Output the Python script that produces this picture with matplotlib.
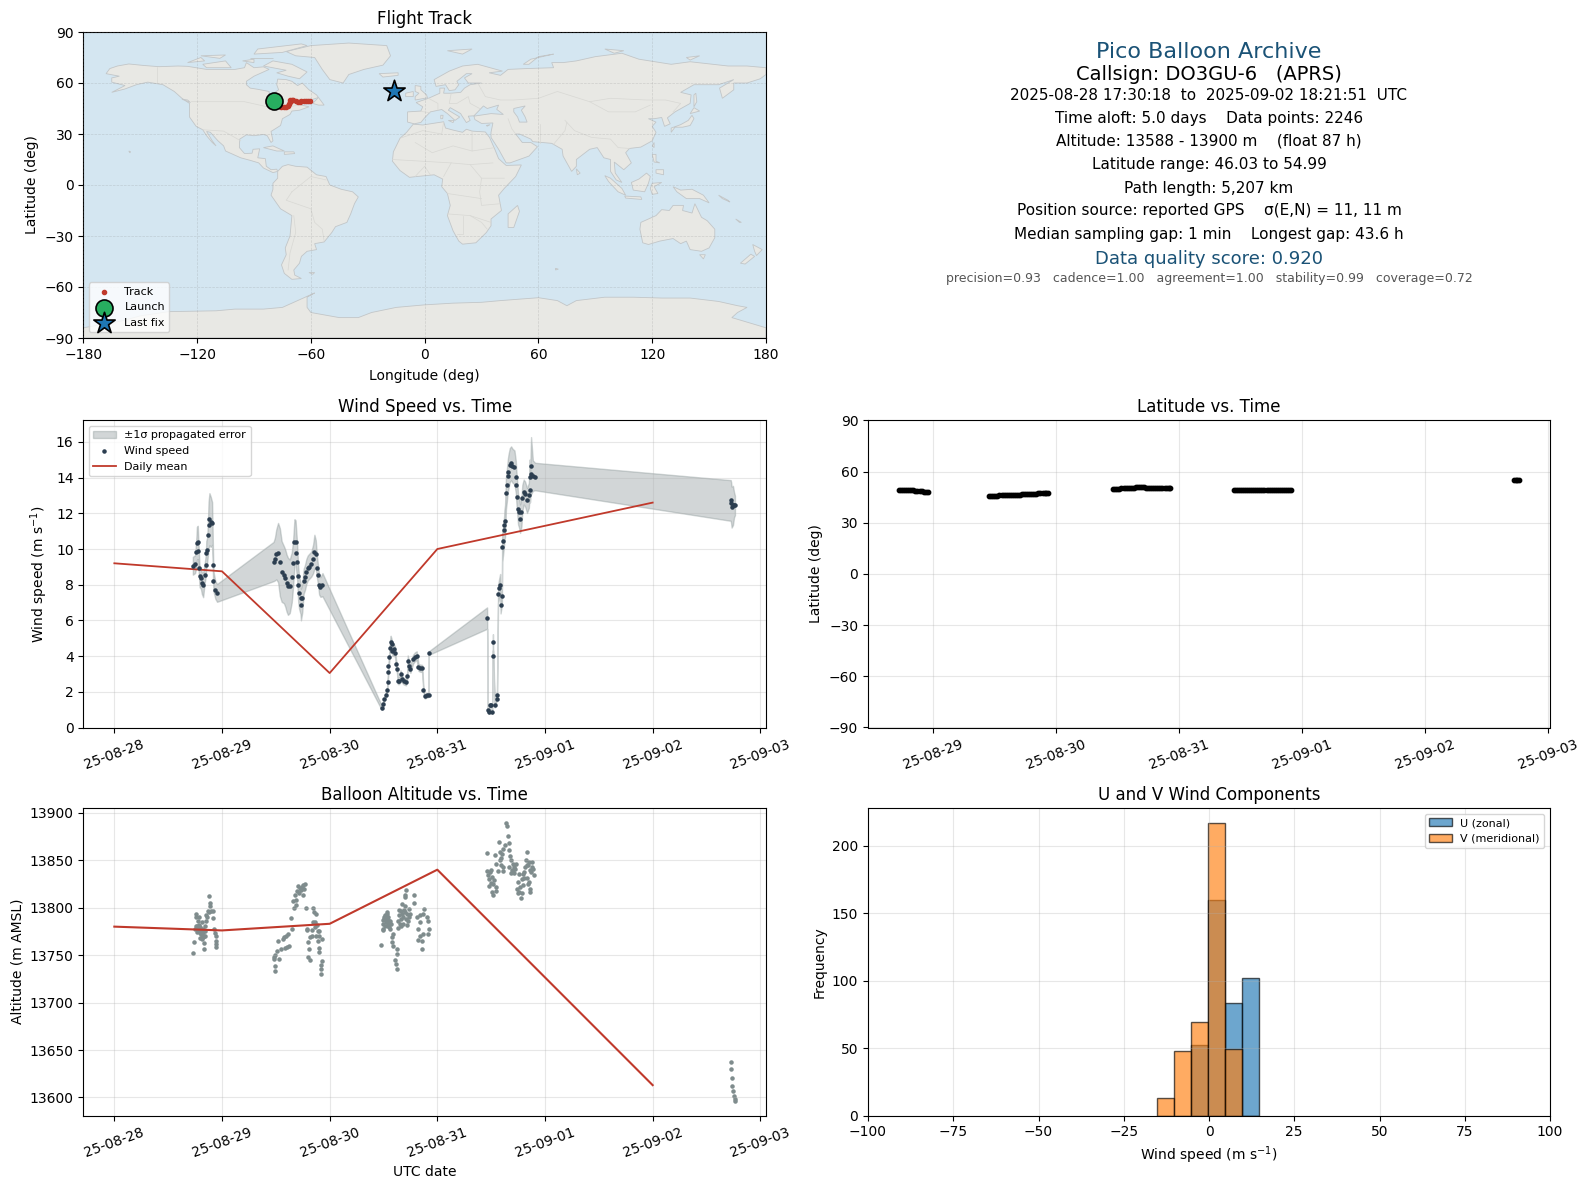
import datetime as dt
import numpy as np
import matplotlib
matplotlib.use("Agg")
import matplotlib.pyplot as plt
import matplotlib.dates as mdates
import matplotlib.ticker as mticker
from matplotlib.patches import Polygon

W, H = 1589, 1189
BASE = dt.datetime(2025, 8, 28)

# ---------- wind speed (hours since 08-28 00:00, m/s, sigma) ----------
wind_hours = [17.5,18.0,18.3,18.4,18.6,18.7,18.9,19.0,19.3,19.5,19.8,20.1,20.4,20.5,20.7,20.9,21.0,21.2,21.5,21.8,22.0,22.1,22.5,22.9,
 35.5,35.8,36.1,36.5,36.9,37.3,37.8,38.1,38.4,38.7,39.1,39.55,39.85,40.15,40.4,40.6,40.75,40.9,41.0,41.2,41.5,41.6,41.9,42.2,42.5,42.8,43.1,43.4,43.9,44.3,44.6,44.9,45.2,45.4,45.65,45.95,46.4,
 59.6,59.9,60.2,60.5,60.8,60.9,61.05,61.1,61.3,61.4,61.6,61.8,62.0,62.3,62.6,62.8,63.0,63.2,63.5,63.8,64.1,64.5,65.0,65.3,65.4,65.7,66.0,66.6,67.0,67.4,67.8,68.1,68.6,68.9,69.2,69.7,70.05,70.1,
 83.1,83.25,83.5,83.7,84.0,84.2,84.4,84.45,84.8,85.2,85.3,85.55,85.8,86.0,86.1,86.4,86.45,86.65,86.9,86.95,87.1,87.3,87.5,87.7,87.85,88.15,88.45,88.75,89.2,89.5,89.6,89.8,90.0,90.2,90.45,90.75,90.95,91.25,91.55,92.0,92.4,92.6,92.65,92.8,92.9,93.3,93.8,
 137.4,137.5,137.6,137.9,138.15,138.35]
wind_speed = [9.06,9.15,9.85,10.31,10.37,9.89,8.93,8.46,8.37,8.09,8.0,8.56,9.11,9.76,9.94,10.78,11.33,11.67,11.52,11.43,9.11,8.19,7.72,7.54,
 9.3,9.44,9.7,9.8,9.26,8.74,8.56,8.37,8.09,7.91,7.91,8.41,9.19,10.37,10.41,9.76,9.3,8.46,8.0,7.54,7.26,6.89,7.26,8.19,8.41,8.74,8.93,9.02,9.15,9.44,9.85,9.7,8.93,8.56,8.0,7.87,8.0,
 1.11,1.33,1.61,1.8,2.11,2.54,3.09,3.46,3.93,4.48,4.81,4.67,4.3,4.39,4.2,3.56,3.28,2.63,2.63,3.0,2.72,2.59,2.54,2.91,3.74,3.46,3.28,3.83,3.96,4.02,3.37,3.33,3.31,2.11,1.74,1.8,1.83,4.17,
 6.13,.96,.87,1.24,1.24,.87,4.78,4.0,1.24,1.61,1.83,7.5,7.81,8.0,6.89,7.39,10.09,10.44,11.06,11.33,11.57,13.13,13.56,14.11,14.33,14.7,14.8,14.67,14.57,14.02,13.56,12.91,12.22,12.07,11.7,12.07,12.85,13.19,13.09,12.72,13.0,14.02,13.31,14.2,14.67,14.11,14.06,
 12.72,12.59,12.35,12.44,12.48,12.44]
wind_sigma = [.5,.5,.85,.93,.93,.8,.6,.6,.6,.6,.7,.55,.6,.7,.7,1.0,1.3,1.46,1.4,1.2,.7,.55,.5,.5,
 1.1,1.2,1.4,1.66,1.9,1.7,1.6,1.6,1.6,1.6,1.5,1.4,1.3,1.3,1.2,1.1,1.0,1.0,1.0,.9,.9,.89,.8,.7,.7,.7,.7,.7,.7,.8,.95,.8,.6,.55,.55,.55,.65,
 .12,.12,.13,.14,.15,.18,.2,.2,.25,.3,.33,.3,.3,.3,.3,.25,.22,.2,.2,.2,.2,.18,.18,.2,.3,.25,.22,.25,.25,.25,.2,.2,.2,.15,.12,.12,.12,.1,
 .6,.12,.1,.12,.12,.1,.45,.35,.12,.15,.17,.5,.55,.6,.5,.5,.8,.8,.8,.85,.9,.9,.9,.9,.95,.95,.95,.95,.95,.9,.9,.9,.85,.85,.8,.8,.75,.7,.7,.7,.7,1.0,.7,1.2,1.6,.85,.77,
 1.14,1.15,1.15,1.1,.7,.55]

mean_hours = [0, 24, 48, 72, 120]
wind_mean = [9.2, 8.75, 3.05, 10.0, 12.6]
alt_mean = [13780, 13776, 13783, 13840, 13613]

# ---------- altitude ----------
alt_hours = [17.6,17.8,17.9,18.1,18.3,18.5,18.7,18.9,19.0,19.3,19.5,19.8,20.0,20.0,20.2,20.3,20.5,20.5,20.9,21.1,21.3,21.4,21.6,22.0,22.0,22.2,22.4,22.7,22.6,22.7,22.7,18.7,19.0,19.4,19.8,18.4,18.1,
 19.1,19.4,19.7,19.9,19.2,19.6,18.9,20.1,21.0,20.7,19.5,18.6,
 35.7,35.9,35.5,35.9,35.9,36.2,36.4,36.8,37.1,37.6,37.9,38.3,38.7,38.0,38.4,38.9,39.3,39.6,39.8,40.2,40.5,40.4,40.9,41.4,41.1,41.6,42.0,42.4,42.2,42.7,44.2,44.4,45.0,44.2,44.7,42.9,43.0,44.0,45.3,45.7,45.0,43.6,43.1,45.3,46.2,43.3,45.6,45.7,43.1,43.6,46.2,46.1,46.0,46.0,
 40.7,41.8,42.1,40.0,44.8,45.1,44.0,45.6,
 59.5,59.8,60.0,59.8,60.2,60.7,60.7,61.1,61.1,61.5,61.7,61.5,62.2,62.0,61.8,62.2,63.0,63.0,62.6,62.7,63.1,63.2,63.3,63.5,63.5,63.9,63.9,64.2,64.7,64.2,64.4,64.8,65.0,64.7,65.2,65.2,65.6,65.7,65.9,66.9,66.7,67.4,67.8,68.1,68.1,69.1,68.9,69.6,70.0,67.6,68.5,68.1,68.9,70.0,70.2,68.5,
 59.9,60.3,60.5,60.9,61.2,60.4,60.1,61.3,60.8,64.5,64.9,65.4,65.0,64.3,64.0,63.7,
 83.0,83.0,83.3,83.6,83.8,84.2,84.7,84.4,85.1,84.2,84.5,85.1,84.8,85.1,85.5,85.7,86.0,86.2,86.6,86.6,86.6,87.0,87.3,87.5,87.7,87.9,87.9,88.1,88.4,88.8,89.6,88.4,89.4,89.2,89.9,89.7,90.3,90.7,90.9,91.0,91.3,91.4,91.8,92.1,91.9,92.5,93.1,92.9,93.6,92.5,92.7,92.7,93.3,92.1,
 84.0,83.6,84.0,85.9,86.3,86.5,88.6,88.9,89.2,88.0,90.0,90.4,90.1,90.8,91.6,92.3,92.7,93.0,92.2,91.1,
 137.4,137.5,137.6,137.7,137.9,138.1,138.3,138.35]
alt_m = [13752,13764,13777,13793,13790,13781,13786,13790,13777,13775,13771,13769,13763,13756,13770,13781,13786,13792,13797,13812,13805,13802,13797,13797,13789,13777,13773,13770,13765,13762,13759,13777,13773,13777,13774,13774,13781,
 13780,13772,13778,13770,13768,13767,13782,13775,13795,13790,13785,13775,
 13748,13750,13746,13739,13733,13754,13765,13746,13756,13767,13769,13770,13772,13757,13759,13760,13789,13777,13807,13813,13803,13808,13823,13821,13815,13819,13813,13825,13820,13800,13800,13795,13793,13785,13785,13777,13776,13776,13775,13775,13770,13769,13764,13765,13767,13756,13757,13753,13748,13745,13744,13740,13735,13730,
 13818,13822,13824,13800,13780,13782,13770,13770,
 13761,13776,13777,13787,13788,13793,13788,13790,13783,13786,13783,13777,13772,13769,13764,13760,13756,13751,13745,13741,13735,13779,13786,13792,13798,13781,13788,13804,13802,13793,13790,13813,13819,13811,13782,13793,13799,13790,13793,13813,13805,13790,13778,13785,13792,13799,13793,13790,13786,13766,13765,13770,13772,13772,13777,13756,
 13783,13781,13785,13781,13786,13792,13790,13780,13795,13798,13795,13786,13788,13783,13796,13783,
 13858,13839,13834,13830,13838,13832,13829,13825,13822,13817,13813,13818,13855,13846,13839,13869,13859,13852,13843,13839,13862,13866,13889,13886,13875,13868,13861,13854,13850,13846,13846,13836,13841,13836,13827,13820,13817,13810,13815,13824,13831,13838,13850,13859,13845,13848,13848,13838,13834,13827,13820,13816,13841,13831,
 13840,13823,13826,13850,13845,13857,13840,13838,13843,13843,13815,13822,13835,13830,13843,13845,13840,13843,13825,13835,
 13637,13630,13620,13612,13607,13602,13598,13596]

# ---------- latitude ----------
lat_hours = [17.4,17.8,18.2,18.6,19.0,19.4,19.8,20.2,20.6,21.0,21.4,21.8,22.2,22.6,23.0,
 35.0,35.4,35.8,36.2,36.6,37.0,37.4,37.8,38.2,38.6,39.0,39.4,39.8,40.2,40.6,41.0,41.4,41.8,42.2,42.6,43.0,43.4,43.8,44.2,44.6,45.0,45.4,45.8,46.1,46.4,
 59.2,59.6,60.0,60.4,60.8,61.2,61.6,62.0,62.4,62.8,63.2,63.6,64.0,64.4,64.8,65.2,65.6,66.0,66.4,66.8,67.2,67.6,68.0,68.4,68.8,69.2,69.6,70.0,70.3,
 82.7,83.1,83.5,83.9,84.3,84.7,85.1,85.5,85.9,86.3,86.7,87.1,87.5,87.9,88.3,88.7,89.1,89.5,89.9,90.3,90.7,91.1,91.5,91.9,92.3,92.7,93.1,93.5,93.9,
 137.4,137.7,138.0,138.35]
lat_deg = [49.5,49.5,49.4,49.4,49.3,49.2,49.1,49.0,48.9,48.9,48.7,48.5,48.3,48.2,48.2,
 46.0,46.0,46.0,46.0,46.0,46.1,46.1,46.1,46.2,46.2,46.3,46.4,46.5,46.6,46.6,46.6,46.7,46.7,46.7,46.7,46.8,46.8,46.9,47.0,47.2,47.3,47.5,47.6,47.7,47.7,
 50.0,50.0,50.0,50.1,50.2,50.3,50.5,50.6,50.7,50.7,50.7,50.8,50.8,50.8,50.8,50.8,50.7,50.7,50.7,50.7,50.7,50.7,50.7,50.7,50.7,50.6,50.6,50.6,50.6,
 49.5,49.5,49.5,49.5,49.5,49.5,49.5,49.5,49.5,49.5,49.5,49.5,49.5,49.5,49.5,49.5,49.5,49.5,49.5,49.5,49.5,49.5,49.5,49.5,49.5,49.5,49.5,49.5,49.5,
 54.9,54.9,54.9,54.9]

# ---------- histogram ----------
hist_edges = [-15.2, -10.2, -5.2, -0.2, 4.8, 9.8, 14.8]
u_counts = [0, 0, 52, 160, 83, 102]
v_counts = [13, 48, 69, 217, 49, 0]

# ---------- track ----------
track_lon = [-79.6,-78.5,-77.4,-76.3,-75.5,-74.2,-72.9,-72.2,-71.5,-71.1,-70.8,-70.1,-69.4,-68.0,-66.8,-65.9,-65.1,-63.8,-62.4,-61.5,-60.7]
track_lat = [49.5,48.5,47.2,46.2,45.8,45.9,46.0,46.7,47.5,48.8,50.0,50.2,50.2,49.6,49.0,49.1,49.3,49.4,49.5,49.6,49.6]
launch = (-79.6, 49.7)
last_fix = (-16.0, 55.2)

# ---------- simplified map geometry (lon, lat) ----------
land = [
 [(-168,65.5),(-166,68.5),(-162,70),(-156,71.2),(-148,70.3),(-140,69.6),(-130,70),(-125,69.8),(-115,68),(-108,68),(-100,68),(-95,69),(-94,72),(-90,69),(-85,69.5),(-82,68),(-86,66),(-90,64),(-94,61),(-94,59),(-92,57),(-88,56.3),(-82,55),(-82,52.5),(-79.5,51.3),(-79,54.5),(-77,56),(-78,59),(-77.5,62.3),(-73,62),(-70,61),(-67,58.5),(-64.5,60),(-61,56),(-57,53),(-56,51.5),(-60,50),(-66,50),(-65,49),(-65,47),(-61,46),(-66,44),(-70,43.5),(-71,41.5),(-75,39),(-76,35),(-81,31.5),(-80,26),(-81,25),(-83,29),(-85,29.7),(-90,29),(-94,29.5),(-97.5,27),(-97.7,22),(-95,18.5),(-91,18.7),(-90.5,21),(-87,21.3),(-88,16),(-84,15.5),(-83.5,11),(-81,9),(-78,9.3),(-77.5,8),(-80,7.3),(-85,10),(-87.5,13),(-92,14.5),(-97,16),(-105,20),(-106,23),(-109,26),(-113,31),(-115,31.5),(-112,26),(-110,23),(-112,25),(-115,29),(-117,32.5),(-120.5,34.5),(-124,40),(-124,48),(-128,51),(-132,55),(-138,59),(-146,60.5),(-152,59),(-158,56.5),(-165,54.5),(-158,58.5),(-165,60.5),(-165,63),(-161,64)],
 [(-77.5,8),(-75,11),(-72,12),(-68,11),(-62,10.5),(-57,6),(-52,5),(-50,0),(-44,-2.5),(-38,-4),(-35,-7),(-37,-11),(-39,-17),(-41,-22),(-47,-24.5),(-49,-28),(-53,-33.5),(-58,-34.5),(-57,-38),(-62,-39),(-65,-42),(-66,-46),(-69,-50),(-68.5,-53),(-65,-55),(-70,-55.5),(-74,-52),(-75.5,-47),(-73,-41),(-73.5,-37),(-71,-30),(-70,-18),(-76,-14),(-81,-6),(-80,-2.5),(-80,1),(-77.5,4)],
 [(-6,35.8),(-1,35.3),(10,37.2),(11,33.5),(15,32.3),(20,31),(22,32.8),(25,31.7),(32,31.2),(34.2,28),(37,21),(39,15.5),(43,11.5),(51,11.8),(48,5),(42,-2),(39,-6),(40.5,-15),(35,-20),(35,-24),(32.5,-28),(27,-34),(20,-34.8),(18,-33),(15,-27),(12,-18),(13.5,-12),(12,-5),(9,-1),(9.5,3.5),(5,6),(-4,5),(-8,4.5),(-13,8.5),(-17,14),(-16.5,19.5),(-13,27.5),(-9.5,31)],
 [(-5.5,36),(-9,37),(-9,43),(-2,43.5),(-1,46),(-4.5,48.5),(2,51),(8,54),(8,57),(10.5,57),(10,54),(14,54),(19,54.5),(21,57),(24,59),(30,60),(23,60),(21,63),(25,65.5),(22,65.5),(17,61),(18,59),(16,56),(13,55.5),(11,59),(6,58),(5,62),(13,67),(20,70),(28,71),(41,67),(34,66),(40,64.5),(44,68),(54,68.5),(68,69),(67,72),(73,72),(80,73),(90,75.5),(104,77.5),(113,74),(130,71),(140,72.5),(160,70),(170,70),(180,69),(180,65),(177,62.5),(170,60),(163,60),(163,56),(157,51),(155.5,57),(163,62),(155,59),(142,59),(135,54.5),(140.5,53),(140,48),(132,43),(128,39.5),(129.5,36),(126.5,34.5),(125,39.7),(121,39),(118,39),(122,37),(120,34.5),(122,31),(120,26),(114,22.3),(108,21.5),(106,19),(109,13),(105,9),(100,13.5),(100.5,7),(104,1.5),(101,3),(98,8),(98,15),(94.5,16),(91,22),(87,21),(80,15),(80,11),(77.5,8),(73,17),(72.5,21),(67,24.5),(57,25.5),(56,27),(50,30),(48,30),(51.5,25),(56,25),(59.5,22.5),(55,17),(45,13),(43,13),(39,21),(35,28),(35,31),(36,36.5),(30,36.2),(26.5,38.5),(26,40.5),(29,41),(35,42),(41.5,41.5),(38,44.5),(39,47),(33,45),(31,46.5),(28,43),(26,40.7),(23,40.5),(24,38),(22,36.7),(19.5,41),(19,42),(13.5,45.5),(12.5,44),(18.5,40),(16,38),(12,42),(9,44.4),(3,43),(0,39.5),(-2,36.8)],
 [(114,-22),(113.5,-26),(115,-34),(118,-35),(124,-33),(131,-31.5),(135,-34.5),(138,-33),(140,-38),(146,-39),(150,-37),(153,-31),(153,-26),(149,-21),(146,-19),(142.5,-11),(141,-16.5),(136,-15),(136.5,-12),(131,-12),(129,-15),(125,-14.5),(122,-18)],
 [(-73,78.5),(-60,82),(-40,83.5),(-20,82),(-18,76),(-22,70.5),(-32,68),(-40,65),(-43,60),(-50,62),(-54,68),(-58,75),(-68,76)],
 [(-180,-90),(-180,-84),(-160,-80),(-150,-77),(-135,-74.5),(-110,-74),(-100,-73),(-85,-73),(-75,-72),(-67,-68),(-58,-63.5),(-62,-66),(-62,-72),(-60,-75),(-45,-78),(-35,-78),(-28,-75),(-15,-72),(0,-70.5),(15,-69.5),(30,-69),(40,-68),(60,-66.3),(70,-68),(75,-71),(80,-68),(95,-66),(110,-66),(125,-66.5),(140,-66.5),(155,-68.5),(165,-71),(170,-72),(165,-75),(162,-78),(180,-84),(180,-90)],
 [(44,-25),(47,-25),(50,-15.5),(49,-12),(44,-17)],
 [(-5,50),(1.5,51.3),(1,53),(-2,56),(-2,58),(-5,58.5),(-5,55),(-3,54),(-5,52)],
 [(-10,52),(-6,52),(-6,55),(-10,54)],
 [(-24,65.5),(-14,66),(-14,64.5),(-22,63.5)],
 [(130,31),(132,34),(136,34),(140,35),(142,39),(141,41),(139,38),(135,35.5),(130,33.5)],
 [(140,42),(145,43.5),(142,45.5)],
 [(142,46),(143.5,49),(143,54),(142,53)],
 [(80,9.5),(82,7),(80.5,6)],
 [(121,25),(121,22),(120,23)],
 [(120,18),(122,18),(122,14),(124,13),(121,13.5)],
 [(122,9),(126,9),(126,6),(122,7)],
 [(109,1.5),(113,3.5),(117,7),(119,5),(118,1),(116,-4),(110,-3)],
 [(95,5.5),(98,4),(104,-2),(106,-6),(102,-4),(97,2)],
 [(105.5,-6.5),(114,-7),(114.5,-8.5),(106,-7.7)],
 [(120,1),(125,1.5),(121,-1),(123,-5),(120,-5.5),(119,-2)],
 [(131,-1),(135,-3),(141,-2.5),(147,-6),(150,-10.5),(145,-8),(138,-8),(133,-4)],
 [(173,-35),(178,-38),(175,-41.5),(174,-39)],
 [(172,-40.7),(174,-42),(169,-46.5),(166.5,-46)],
 [(145,-41),(148,-41),(147,-43.5)],
 [(-85,22),(-80,23),(-74,20),(-78,20)],
 [(-74,19.5),(-69,19.5),(-68.5,18.5),(-74,18)],
 [(-80,73),(-70,71),(-62,66.5),(-66,62.5),(-72,64),(-78,66),(-73,67.5),(-85,70)],
 [(-117,71),(-105,73),(-102,69),(-115,69)],
 [(-125,72),(-118,75),(-116,73)],
 [(-90,77),(-88,80),(-65,83),(-62,82),(-75,78)],
 [(-92,75),(-80,75),(-80,74.5)],
 [(-96,73),(-90,74),(-90,72)],
 [(-118,76),(-105,76.5),(-108,74.5)],
 [(12,79),(25,80),(20,77)],
 [(52,71),(56,74),(68,77),(60,75.5),(55,71)],
 [(95,80),(105,79),(100,77.5)],
 [(138,75),(145,76),(140,73.5)],
 [(-59,48),(-56,51.5),(-53,47),(-56,47)],
 [(69,-49),(70.5,-49.5),(69,-50)],
 [(-156,20),(-155,19.5),(-155.5,19)],
 [(-128,50.5),(-125,50),(-123.5,48.5)],
 [(-61,-51.5),(-58,-51.5),(-59,-52.5)],
 [(164,-20),(167,-22),(166,-22)],
 [(155,-6),(160,-9),(161,-10),(157,-8)],
 [(8.5,41),(9.7,41),(9.5,39),(8.5,39)],
 [(12.5,38),(15.5,38),(15,36.7)],
 [(32.5,35),(34.5,35.5),(33,34.6)],
]
water = [[(47,45),(53,46.5),(51,44),(53,40),(54,37),(50,37),(49,40),(47,43)]]
borders = [
 [(-123,49),(-95,49),(-83,46),(-75,45),(-67,47)],[(-117,32.5),(-106,31.7),(-97,26)],[(-141,69.6),(-141,60)],
 [(-70,-4),(-60,5),(-52,3)],[(-70,-4),(-73,-9),(-60,-14),(-58,-22),(-54,-26),(-53,-33)],[(-69,-18),(-68,-28),(-71,-40),(-72,-50)],
 [(28,60),(32,52),(40,50),(47,50),(60,51),(70,55),(87,49),(98,51),(117,50),(127,50),(135,48),(131,43)],
 [(74,38),(79,32),(88,28),(98,27),(102,22),(108,21.5)],[(87,49),(97,43),(111,43),(119,47)],[(68,24),(74,32),(75,37)],
 [(44,39),(46,33),(48,30)],[(61,36),(61,25)],[(-2,43.3),(3,42.5)],[(2,51),(7,48),(7,44)],[(14,54),(13,48),(17,48),(23,52),(24,48),(29,45)],
 [(-13,27.5),(-1,32),(9,30),(10,37)],[(25,31.7),(25,20),(37,22)],[(25,20),(15,23),(4,19),(-5,25)],[(-17,15),(14,13),(24,12),(36,13)],
 [(10,5),(14,13)],[(-5,5),(0,11),(3,6)],[(24,12),(30,4),(42,4)],[(30,4),(29,-4),(30,-12),(40,-11)],[(12,-5),(30,-8)],
 [(12,-17),(24,-18),(35,-22)],[(20,-18),(20,-29),(17,-29)],[(24,-18),(30,-22),(33,-26)],
]

# ---------- text ----------
info_lines = ["Pico Balloon Archive", "Callsign: DO3GU-6   (APRS)",
 "2025-08-28 17:30:18  to  2025-09-02 18:21:51  UTC", "Time aloft: 5.0 days    Data points: 2246",
 "Altitude: 13588 - 13900 m    (float 87 h)", "Latitude range: 46.03 to 54.99", "Path length: 5,207 km",
 "Position source: reported GPS    \u03c3(E,N) = 11, 11 m", "Median sampling gap: 1 min    Longest gap: 43.6 h",
 "Data quality score: 0.920", "precision=0.93   cadence=1.00   agreement=1.00   stability=0.99   coverage=0.72"]
info_y = [52, 74, 95.5, 118, 141, 164.5, 188, 211, 234.5, 258.5, 279]
info_size = [16, 14, 11, 11, 11, 11, 11, 11, 11, 13, 9]
info_color = ['#1a5276', 'black', 'black', 'black', 'black', 'black', 'black', 'black', 'black', '#1a5276', '#555555']

RED = '#c0392b'; DARK = '#2c3e50'; GREY = '#7f8c8d'


def to_dates(hours):
    return [BASE + dt.timedelta(hours=float(h)) for h in hours]


def axpx(l, t, r, b):
    return fig.add_axes([l / W, 1 - b / H, (r - l) / W, (b - t) / H])


def fmt_time(ax):
    ax.xaxis.set_major_locator(mdates.DayLocator())
    ax.xaxis.set_major_formatter(mdates.DateFormatter('%y-%m-%d'))
    ax.tick_params(axis='x', labelrotation=20)
    ax.grid(True, alpha=0.3)


fig = plt.figure(figsize=(W / 100, H / 100), dpi=100)
LX0, LX1, RX0, RX1 = 83.3, 766, 868, 1550
R1 = (32, 338); R2 = (420.5, 727.5); R3 = (808, 1115.5)

# map
ax = axpx(LX0, R1[0], LX1, R1[1])
ax.set_facecolor('#d4e6f1')
for p in land:
    ax.add_patch(Polygon(p, closed=True, fc='#e8e8e4', ec='#c2c6c8', lw=0.6, zorder=1))
for p in water:
    ax.add_patch(Polygon(p, closed=True, fc='#d4e6f1', ec='#c2c6c8', lw=0.6, zorder=1.1))
for b in borders:
    xs, ys = zip(*b)
    ax.plot(xs, ys, color='#d8d8d4', lw=0.5, zorder=1.2)
ax.scatter(track_lon, track_lat, s=9, color=RED, zorder=4, label='Track')
ax.scatter(*launch, s=150, color='#27ae60', edgecolors='black', linewidths=1.2, zorder=5, label='Launch')
ax.scatter(*last_fix, s=260, marker='*', color='#1f77b4', edgecolors='black', linewidths=1.2, zorder=5, label='Last fix')
ax.set_xlim(-180, 180); ax.set_ylim(-90, 90)
ax.set_xticks(np.arange(-180, 181, 60)); ax.set_yticks(np.arange(-90, 91, 30))
ax.grid(True, ls='--', lw=0.5, color='grey', alpha=0.25, zorder=2)
ax.set_axisbelow(False)
ax.set_title('Flight Track', fontsize=12)
ax.set_xlabel('Longitude (deg)', labelpad=5); ax.set_ylabel('Latitude (deg)')
ax.legend(loc='lower left', fontsize=8)

# info text
cx = (RX0 + RX1) / 2
for s, y, fs, c in zip(info_lines, info_y, info_size, info_color):
    fig.text(cx / W, 1 - y / H, s, ha='center', va='center', fontsize=fs, color=c)

# wind speed
ax = axpx(LX0, R2[0], LX1, R2[1])
wt = to_dates(wind_hours)
ws = np.array(wind_speed); sg = np.array(wind_sigma)
ax.fill_between(wt, ws - sg, ws + sg, color=GREY, alpha=0.35, label='\u00b11\u03c3 propagated error')
ax.scatter(wt, ws, s=5, color=DARK, zorder=3, label='Wind speed')
ax.plot(to_dates(mean_hours), wind_mean, color=RED, lw=1.3, label='Daily mean')
ax.set_ylim(0, 17.2)
ax.set_ylabel('Wind speed (m s$^{-1}$)')
ax.set_title('Wind Speed vs. Time', fontsize=12)
ax.legend(loc='upper left', fontsize=8)
fmt_time(ax)

# latitude
ax = axpx(RX0, R2[0], RX1, R2[1])
ax.scatter(to_dates(lat_hours), lat_deg, s=10, color='black')
ax.set_ylim(-90, 90); ax.set_yticks(np.arange(-90, 91, 30))
ax.set_ylabel('Latitude (deg)')
ax.set_title('Latitude vs. Time', fontsize=12)
fmt_time(ax)

# altitude
ax = axpx(LX0, R3[0], LX1, R3[1])
ax.scatter(to_dates(alt_hours), alt_m, s=5, color=GREY)
ax.plot(to_dates(mean_hours), alt_mean, color=RED, lw=1.5)
ax.set_ylim(13581, 13905)
ax.set_ylabel('Altitude (m AMSL)'); ax.set_xlabel('UTC date')
ax.set_title('Balloon Altitude vs. Time', fontsize=12)
fmt_time(ax)

# histogram
ax = axpx(RX0, R3[0], RX1, R3[1])
edges = np.array(hist_edges)
ax.hist(edges[:-1], bins=edges, weights=u_counts, color='#1f77b4', alpha=0.65, edgecolor='black', label='U (zonal)')
ax.hist(edges[:-1], bins=edges, weights=v_counts, color='#ff7f0e', alpha=0.65, edgecolor='black', label='V (meridional)')
ax.set_xlim(-100, 100)
ax.set_xlabel('Wind speed (m s$^{-1}$)'); ax.set_ylabel('Frequency')
ax.set_title('U and V Wind Components', fontsize=12)
ax.legend(loc='upper right', fontsize=8)
ax.grid(True, alpha=0.3)

fig.savefig('out.png', dpi=100)
